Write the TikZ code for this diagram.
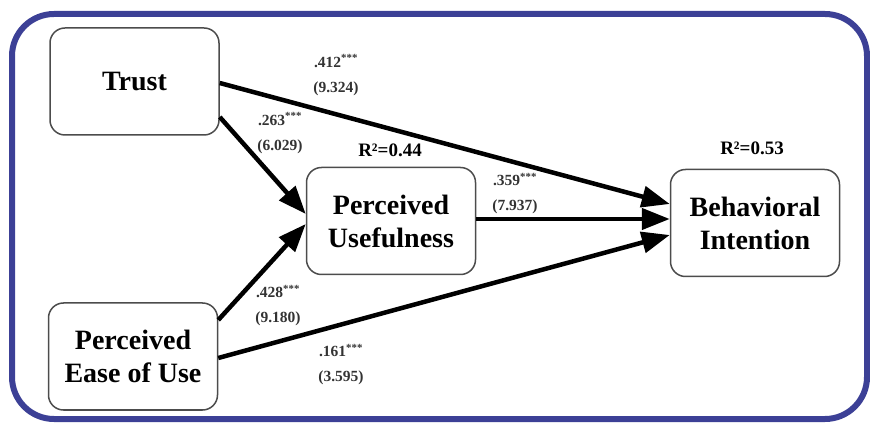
\documentclass[tikz,border=0pt]{standalone}
\usepackage{fontspec}
\setmainfont{Liberation Serif}
\usetikzlibrary{positioning,arrows.meta}
\definecolor{framecol}{RGB}{60,64,150}
\begin{document}
\begin{tikzpicture}[x=1pt,y=1pt,auto]
    \tikzstyle{every node}=[inner sep=0]
    \tikzstyle{construct}=[draw=black!70,line width=1.5,rounded corners=15,fill=white,align=center,minimum width=169,minimum height=107,font=\fontsize{28}{33}\selectfont\bfseries]
    \tikzstyle{coef}=[align=center,text=black!80,font=\fontsize{15.5}{25}\selectfont\bfseries]
    \tikzstyle{rsq}=[font=\fontsize{19}{22}\selectfont\bfseries]
    \tikzstyle{link}=[line width=4.5,-{Triangle[length=28,width=21]}]
    {
        \useasboundingbox (0,0) rectangle (870,423);
        \draw[framecol,line width=6,rounded corners=42] (12,4) rectangle (867,409);

        \node[construct] (trust) at (134.5,341.5) {Trust};
        \node[construct] (peou) at (133,66.5) {Perceived\\Ease of Use};
        \node[construct] (pu) at (391,202) {Perceived\\Usefulness};
        \node[construct] (bi) at (755,200) {Behavioral\\Intention};

        \node[rsq] (rpu) at (390,273) {R²=0.44};
        \node[rsq] (rbi) at (752,275) {R²=0.53};

        \node[coef] (c1) at (336,348) {.412\textsuperscript{***}\\(9.324)};
        \node[coef] (c2) at (280,290) {.263\textsuperscript{***}\\(6.029)};
        \node[coef] (c3) at (515,229.5) {.359\textsuperscript{***}\\(7.937)};
        \node[coef] (c4) at (278,117.5) {.428\textsuperscript{***}\\(9.180)};
        \node[coef] (c5) at (341,58.5) {.161\textsuperscript{***}\\(3.595)};

        \path[link]
            ([yshift=-1.5]trust.east) edge ([yshift=19]bi.west)
            ([yshift=-35.5]trust.east) edge ([yshift=7]pu.west)
            ([yshift=36.5]peou.east) edge ([yshift=-3]pu.west)
            ([yshift=2]pu.east) edge ([yshift=4]bi.west)
            ([yshift=-1.5]peou.east) edge ([yshift=-12]bi.west);
    }
\end{tikzpicture}
\end{document}
